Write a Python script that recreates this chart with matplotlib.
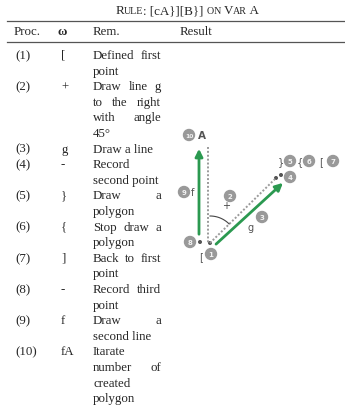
import matplotlib
matplotlib.use("Agg")
import numpy as np
import matplotlib.pyplot as plt
from matplotlib.patches import Circle

# table content
procs = ["(1)", "(2)", "(3)", "(4)", "(5)", "(6)", "(7)", "(8)", "(9)", "(10)"]
symbols = ["[", "+", "g", "-", "}", "{", "]", "-", "f", "fA"]
remarks = [
    ["Defined first", "point"],
    ["Draw line g", "to the right", "with angle", "45°"],
    ["Draw a line"],
    ["Record", "second point"],
    ["Draw a", "polygon"],
    ["Stop draw a", "polygon"],
    ["Back to first", "point"],
    ["Record third", "point"],
    ["Draw a", "second line"],
    ["Itarate", "number of", "created", "polygon"],
]
headers = ["Proc.", "ω", "Rem.", "Result"]

# diagram step numbers
steps = ["1", "2", "3", "4", "5", "6", "7", "8", "9", "10"]

serif = "Liberation Serif"
txt = "#262626"
green = "#2b9950"
grey_disc = "#999999"
fs = 9.3

fig = plt.figure(figsize=(3.45, 4.06), dpi=100)
ax = fig.add_axes([0, 0, 1, 1])
ax.set_xlim(0, 345)
ax.set_ylim(406, 0)
ax.axis("off")
renderer = fig.canvas.get_renderer()


def width_of(s, size):
    t = ax.text(0, 0, s, fontsize=size, family=serif)
    bb = t.get_window_extent(renderer=renderer)
    t.remove()
    return bb.width


def justify(words, x0, x1, y, size):
    ws = [width_of(w, size) for w in words]
    gap = (x1 - x0 - sum(ws)) / (len(words) - 1)
    x = x0
    for w, wd in zip(words, ws):
        ax.text(x, y, w, fontsize=size, family=serif, color=txt, va="center", ha="left")
        x += wd + gap


# title in small caps
fs_big, fs_small = 9.4, 7.2
pieces = [("R", fs_big), ("ULE", fs_small), (": [cA}][B}] ", fs_big), ("ON ", fs_small),
          ("V", fs_big), ("AR", fs_small), (" A", fs_big)]
total = sum(width_of(p, s) for p, s in pieces)
x = 187 - total / 2
for p, s in pieces:
    ax.text(x, 14, p, fontsize=s, family=serif, color=txt, va="baseline", ha="left")
    x += width_of(p, s)

# rules
for yl in (22, 43):
    ax.plot([7, 345], [yl, yl], color="#555555", lw=0.9)

hx = [14, 62, 93, 180]
for h, xx in zip(headers, hx):
    ax.text(xx, 32, h, fontsize=fs, family=serif, color=txt, va="center",
            ha="center" if h == "ω" else "left",
            weight="bold" if h == "ω" else "normal")

# rows
y0, pitch = 56, 15.6
rem_x0, rem_x1 = 93, 161
line = 0
for p, s, rem in zip(procs, symbols, remarks):
    y = y0 + line * pitch
    ax.text(15, y, p, fontsize=fs, family=serif, color=txt, va="center")
    ax.text(61, y, s, fontsize=fs, family=serif, color=txt, va="center")
    for k, r in enumerate(rem):
        yy = y + k * pitch
        words = r.split()
        last = k == len(rem) - 1
        if not last and len(words) > 1:
            justify(words, rem_x0, rem_x1, yy, fs)
        else:
            ax.text(rem_x0, yy, r, fontsize=fs, family=serif, color=txt, va="center")
    line += len(rem)

# diagram
base = (210, 244)
ax.plot([208, 208], [148, 245], color="#9a9a9a", lw=1.4, ls=(0, (1, 1)))
ax.plot([base[0], 276], [base[1], 179], color="#9a9a9a", lw=1.4, ls=(0, (1, 1)))
th = np.linspace(np.pi / 2, np.pi / 4, 30)
ax.plot(base[0] + 27 * np.cos(th), base[1] - 27 * np.sin(th), color="#444444", lw=0.8)
ax.text(226, 206, "+", fontsize=7, color="#444444", ha="center", va="center")

ax.annotate("", xy=(199, 147), xytext=(199, 238),
            arrowprops=dict(arrowstyle="-|>", color=green, lw=2, mutation_scale=11))
ax.annotate("", xy=(285, 182), xytext=(214, 247),
            arrowprops=dict(arrowstyle="-|>", color=green, lw=2, mutation_scale=11))

for px, py in [(210, 244), (276, 179), (200, 243), (281, 176)]:
    ax.add_patch(Circle((px, py), 1.3, color="#555555"))

disc_pos = [(211, 255), (230, 197), (262, 218), (290, 178), (290, 162),
            (309, 162), (333, 162), (190, 243), (184, 193), (189, 136)]
for n, (cx, cy) in zip(steps, disc_pos):
    ax.add_patch(Circle((cx, cy), 5.5, color=grey_disc))
    ax.text(cx, cy + 0.3, n, fontsize=4.3 if len(n) > 1 else 5, color="#f2f2f2",
            ha="center", va="center", weight="bold")

letters = [("A", 202, 136), ("f", 193, 193), ("g", 251, 228), ("}", 281, 162),
           ("{", 300, 162), ("[", 321, 162), ("[", 201, 257)]
for s, lx, ly in letters:
    ax.text(lx, ly, s, fontsize=7.5 if s == "A" else 7, color="#555555",
            ha="center", va="center", weight="bold" if s == "A" else "normal")

fig.savefig("out.png", dpi=100)
